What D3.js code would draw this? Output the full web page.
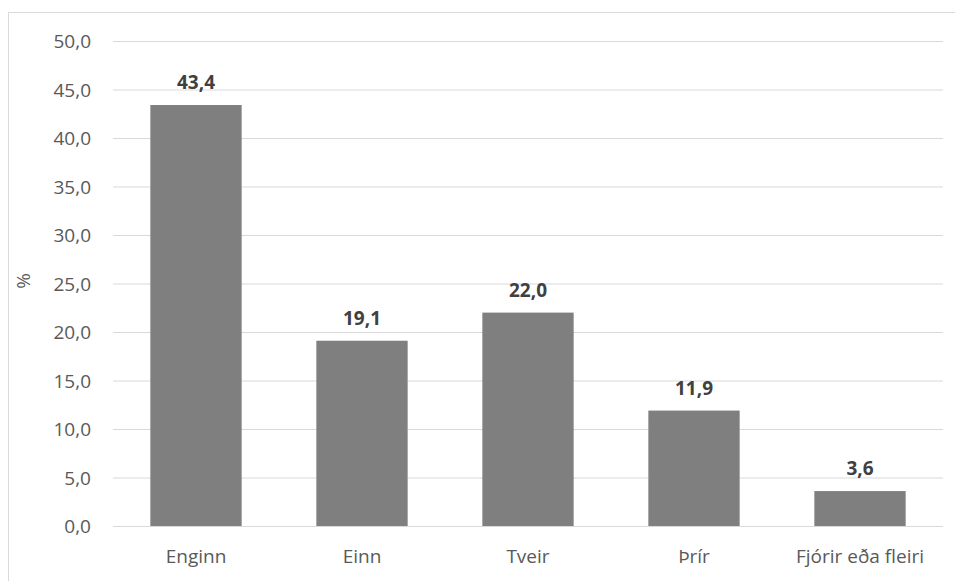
<!DOCTYPE html>
<html><head><meta charset="utf-8">
<script src="https://cdn.jsdelivr.net/npm/d3@7"></script>
<style>body{margin:0;background:#fff;}svg{display:block;} svg text{font-family:"Open Sans","Noto Sans",sans-serif;}</style>
</head><body>
<script>
const categories = ["Enginn","Einn","Tveir","Þrír","Fjórir eða fleiri"];
const values = [43.4,19.1,22.0,11.9,3.6];
const yTicks = [0,5,10,15,20,25,30,35,40,45,50];
const yLabel = "%";

(function(){
const W=955,H=581;
const svg=d3.select("body").append("svg").attr("width",W).attr("height",H);
svg.append("rect").attr("x",8.5).attr("y",12.5).attr("width",W).attr("height",H).attr("fill","#fff").attr("stroke","#d9d9d9");
const mL=113,mR=943,mT=41,mB=526;
const fmt=v=>d3.format(".1f")(v).replace(".",",");
const x=d3.scaleBand().domain(categories).range([mL,mR]).paddingInner(0.45).paddingOuter(0.225);
const y=d3.scaleLinear().domain([0,50]).range([mB,mT]);

const ya=svg.append("g").attr("transform",`translate(${mL},0)`).call(d3.axisLeft(y).tickValues(yTicks).tickSize(-(mR-mL)).tickFormat(fmt).tickPadding(22));
ya.select(".domain").remove();
ya.selectAll(".tick line").attr("stroke","#d9d9d9").attr("stroke-width",1);
ya.selectAll(".tick text").attr("fill","#595959").style("font-size","19px").attr("dy","0.36em");

svg.selectAll("rect.bar").data(values).join("rect").attr("class","bar")
 .attr("x",(d,i)=>x(categories[i])).attr("width",x.bandwidth())
 .attr("y",d=>y(d)).attr("height",d=>mB-y(d)).attr("fill","#7f7f7f");

svg.selectAll("text.val").data(values).join("text").attr("class","val")
 .attr("x",(d,i)=>x(categories[i])+x.bandwidth()/2).attr("y",d=>y(d)-16)
 .attr("text-anchor","middle").attr("fill","#404040").style("font-size","19px").style("font-weight","bold").text(fmt);

const xa=svg.append("g").attr("transform",`translate(0,${mB})`).call(d3.axisBottom(x).tickSize(0).tickPadding(24));
xa.select(".domain").remove();
xa.selectAll(".tick text").attr("fill","#595959").style("font-size","19px");

svg.append("text").attr("transform",`translate(30,281) rotate(-90)`).attr("text-anchor","middle")
 .attr("fill","#595959").style("font-size","19px").text(yLabel);
})();
</script>
</body></html>
